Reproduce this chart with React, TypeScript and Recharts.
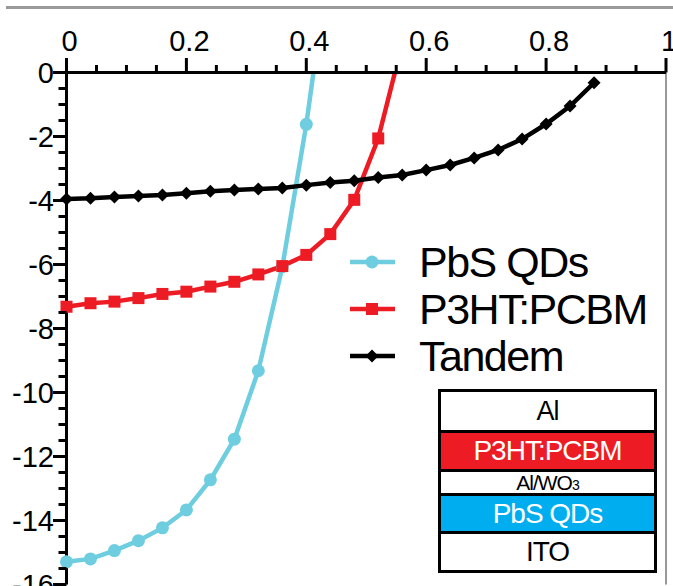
import { Legend, Line, LineChart, ReferenceLine, XAxis, YAxis } from 'recharts';

const FONT = '"Liberation Sans", Arial, Helvetica, sans-serif';
const BLUE = '#6ECEDF';
const RED = '#ED1C24';
const BLACK = '#000000';

// voltage (V), one point every 0.04 V
const VOLTAGE = [
  0, 0.04, 0.08, 0.12, 0.16, 0.2, 0.24, 0.28, 0.32, 0.36, 0.4, 0.44, 0.48, 0.52, 0.56, 0.6,
  0.64, 0.68, 0.72, 0.76, 0.8, 0.84, 0.88,
];
// current density (mA/cm2)
const PBS_QDS = [-15.29, -15.2, -14.94, -14.63, -14.23, -13.67, -12.73, -11.46, -9.32, -6.07, -1.62, 3.8];
const P3HT_PCBM = [
  -7.32, -7.21, -7.16, -7.05, -6.92, -6.85, -6.69, -6.54, -6.31, -6.05, -5.7, -5.05, -3.98, -2.06, 0.9,
];
const TANDEM = [
  -3.95, -3.93, -3.89, -3.86, -3.83, -3.77, -3.71, -3.67, -3.64, -3.61, -3.52, -3.44, -3.38, -3.28,
  -3.2, -3.05, -2.89, -2.67, -2.42, -2.08, -1.61, -1.05, -0.32,
];
const SERIES_NAMES = ['PbS QDs', 'P3HT:PCBM', 'Tandem'];

const X_TICKS = [
  0, 0.05, 0.1, 0.15, 0.2, 0.25, 0.3, 0.35, 0.4, 0.45, 0.5, 0.55, 0.6, 0.65, 0.7, 0.75, 0.8, 0.85,
  0.9, 0.95, 1,
];
const X_LABELS = [0, 0.2, 0.4, 0.6, 0.8, 1];
const Y_TICKS = [
  0, -0.5, -1, -1.5, -2, -2.5, -3, -3.5, -4, -4.5, -5, -5.5, -6, -6.5, -7, -7.5, -8, -8.5, -9, -9.5,
  -10, -10.5, -11, -11.5, -12, -12.5, -13, -13.5, -14, -14.5, -15, -15.5, -16,
];
const Y_LABELS = [0, -2, -4, -6, -8, -10, -12, -14, -16];

const DEVICE_LAYERS = ['Al', 'P3HT:PCBM', 'Al/WO3', 'PbS QDs', 'ITO'];

const PLOT_LEFT = 66.5;
const PLOT_TOP = 72.5;

const toPoints = (ys: number[]) => ys.map((y, i) => ({ x: VOLTAGE[i], y }));

function TopTick({ x, payload }: any) {
  const major = X_LABELS.includes(payload.value);
  return (
    <g>
      <line x1={x} x2={x} y1={PLOT_TOP} y2={PLOT_TOP - (major ? 14.5 : 7.5)} stroke={BLACK} strokeWidth={3} />
      {major && (
        <text x={x + 3} y={51} textAnchor="middle" fontSize={29} fontFamily={FONT} fill={BLACK}>
          {payload.value}
        </text>
      )}
    </g>
  );
}

function LeftTick({ y, payload }: any) {
  const major = Y_LABELS.includes(payload.value);
  return (
    <g>
      <line x1={PLOT_LEFT} x2={PLOT_LEFT - (major ? 13.5 : 8)} y1={y} y2={y} stroke={BLACK} strokeWidth={3} />
      {major && (
        <text x={54} y={y + 10.5} textAnchor="end" fontSize={29} fontFamily={FONT} fill={BLACK}>
          {payload.value}
        </text>
      )}
    </g>
  );
}

function marker(type: string, cx: number, cy: number, color: string, key?: string | number) {
  if (type === 'square') {
    return <rect key={key} x={cx - 6} y={cy - 6} width={12} height={12} fill={color} />;
  }
  if (type === 'diamond') {
    return (
      <path
        key={key}
        d={`M${cx},${cy - 6.5} L${cx + 6.5},${cy} L${cx},${cy + 6.5} L${cx - 6.5},${cy} Z`}
        fill={color}
      />
    );
  }
  return <circle key={key} cx={cx} cy={cy} r={6.5} fill={color} />;
}

const dotOf = (type: string, color: string) => (p: any) => {
  const key = `${type}-${p.index}`;
  if (p.cx == null || p.cy == null) return <g key={key} />;
  return marker(type, p.cx, p.cy, color, key);
};

function SeriesLegend({ payload }: any) {
  const items = [...(payload || [])].sort(
    (a: any, b: any) => SERIES_NAMES.indexOf(a.value) - SERIES_NAMES.indexOf(b.value),
  );
  return (
    <div>
      {items.map((entry: any) => (
        <div key={entry.value} style={{ display: 'flex', alignItems: 'center', height: 47 }}>
          <svg width={71} height={20} style={{ flex: 'none' }}>
            <line x1={2} x2={47} y1={10} y2={10} stroke={entry.color} strokeWidth={4.5} />
            {marker(entry.type, 24, 10, entry.color)}
          </svg>
          <span
            style={{
              fontFamily: FONT,
              fontSize: 43,
              letterSpacing: -1.5,
              color: BLACK,
              whiteSpace: 'nowrap',
            }}
          >
            {entry.value}
          </span>
        </div>
      ))}
    </div>
  );
}

function DeviceStack() {
  const rows = [
    { h: 38, bg: '#ffffff', color: BLACK, size: 27 },
    { h: 36, bg: RED, color: '#ffffff', size: 28 },
    { h: 21, bg: '#ffffff', color: BLACK, size: 21 },
    { h: 35, bg: '#00AEEF', color: '#ffffff', size: 28 },
    { h: 36, bg: '#ffffff', color: BLACK, size: 28 },
  ];
  return (
    <div
      style={{
        position: 'absolute',
        left: 438,
        top: 389,
        width: 213,
        border: '3px solid #000',
        fontFamily: FONT,
        background: '#fff',
      }}
    >
      {DEVICE_LAYERS.map((label, i) => (
        <div
          key={label}
          style={{
            height: rows[i].h,
            background: rows[i].bg,
            color: rows[i].color,
            borderTop: i === 0 ? 'none' : '3px solid #000',
            display: 'flex',
            alignItems: 'center',
            justifyContent: 'center',
            fontSize: rows[i].size,
            letterSpacing: -1,
            lineHeight: 1,
          }}
        >
          {label === 'Al/WO3' ? (
            <span>
              Al/WO<span style={{ fontSize: 14 }}>3</span>
            </span>
          ) : (
            label
          )}
        </div>
      ))}
    </div>
  );
}

export default function App() {
  return (
    <div
      style={{
        position: 'absolute',
        left: 0,
        top: 0,
        width: 673,
        height: 586,
        overflow: 'hidden',
        background: '#fff',
      }}
    >
      <div style={{ position: 'absolute', left: 6, top: 6, width: 667, height: 3, background: '#9a9a9a' }} />
      <LineChart width={673} height={600} margin={{ top: 32.5, left: 6.5, right: 7, bottom: 15.5 }}>
        <XAxis
          type="number"
          dataKey="x"
          orientation="top"
          domain={[0, 1]}
          ticks={X_TICKS}
          interval={0}
          height={40}
          tickLine={false}
          axisLine={{ stroke: BLACK, strokeWidth: 3 }}
          tick={TopTick}
        />
        <YAxis
          type="number"
          dataKey="y"
          domain={[-16, 0]}
          allowDataOverflow
          ticks={Y_TICKS}
          interval={0}
          width={60}
          tickLine={false}
          axisLine={{ stroke: BLACK, strokeWidth: 3 }}
          tick={LeftTick}
        />
        <ReferenceLine x={1} stroke="#333" strokeWidth={1} />
        <Legend
          layout="vertical"
          align="center"
          verticalAlign="middle"
          wrapperStyle={{ left: 348, top: 238.5, width: 320 }}
          content={SeriesLegend}
        />
        <Line
          data={toPoints(PBS_QDS)}
          dataKey="y"
          name="PbS QDs"
          legendType="circle"
          type="linear"
          stroke={BLUE}
          strokeWidth={4.5}
          dot={dotOf('circle', BLUE)}
          activeDot={false}
          isAnimationActive={false}
        />
        <Line
          data={toPoints(P3HT_PCBM)}
          dataKey="y"
          name="P3HT:PCBM"
          legendType="square"
          type="linear"
          stroke={RED}
          strokeWidth={4.5}
          dot={dotOf('square', RED)}
          activeDot={false}
          isAnimationActive={false}
        />
        <Line
          data={toPoints(TANDEM)}
          dataKey="y"
          name="Tandem"
          legendType="diamond"
          type="linear"
          stroke={BLACK}
          strokeWidth={4.5}
          dot={dotOf('diamond', BLACK)}
          activeDot={false}
          isAnimationActive={false}
        />
      </LineChart>
      <DeviceStack />
    </div>
  );
}
